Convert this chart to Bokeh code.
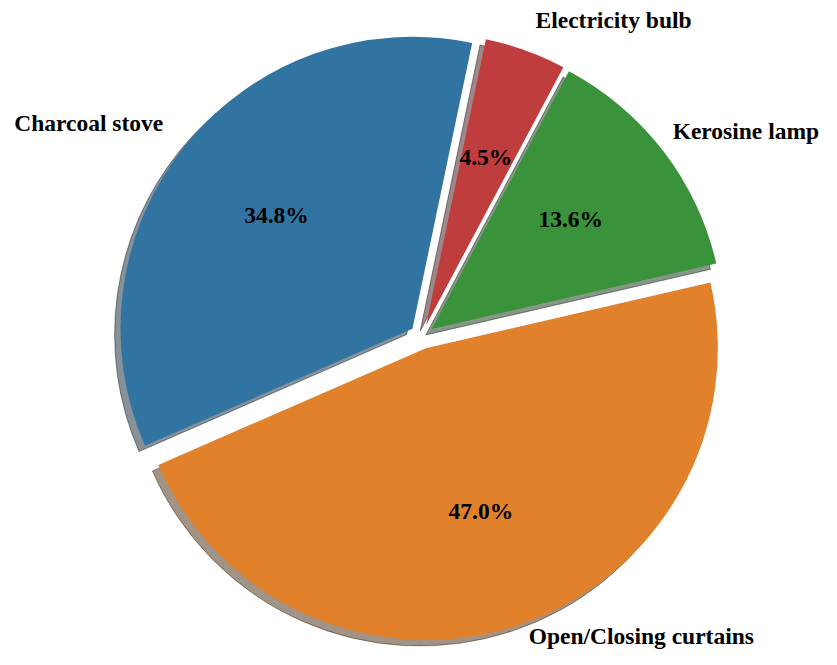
import numpy as np
from bokeh.plotting import figure
from bokeh.models import Range1d, ColumnDataSource
from bokeh.embed import file_html
from bokeh.resources import INLINE
from bokeh.core.properties import value

# ---- data ----
labels = ["Charcoal stove", "Open/Closing curtains", "Kerosine lamp", "Electricity bulb"]
shares = [34.8, 47.0, 13.6, 4.5]
colors = ["#3274A1", "#E1812C", "#3A923A", "#C03D3E"]

# ---- layout ----
W, H = 821, 649
R_PX = 292.0                 # pie radius in pixels
CX_PX, CY_PX = 421.5, 336.0  # pie centre, pixels from the top-left of the canvas
START_DEG = 78.2
EXPLODE = 0.042
LABEL_DIST = 1.1
PCT_DIST = 0.6
SHADOW_DX, SHADOW_DY = -0.02, -0.02
TEXT_RAISE_PX = 3.0
FONT = "Liberation Serif"
FONT_SIZE = "23.5px"
# small pixel nudges so that edge labels stay inside the canvas
LABEL_NUDGE_PX = {"Kerosine lamp": (-14.0, 0.0), "Open/Closing curtains": (2.0, 14.0)}

frac = np.array(shares, dtype=float) / sum(shares)
bounds = np.radians(START_DEG + 360.0 * np.concatenate([[0.0], np.cumsum(frac)]))
start, end = bounds[:-1], bounds[1:]
mid = (start + end) / 2.0
ox = EXPLODE * np.cos(mid)
oy = EXPLODE * np.sin(mid)


def shade(c):
    c = c.lstrip("#")
    rgb = [int(c[i:i + 2], 16) for i in (0, 2, 4)]
    return "#%02x%02x%02x" % tuple(int(round(0.3 * v)) for v in rgb)


shadow_colors = [shade(c) for c in colors]

src = ColumnDataSource(dict(
    x=ox, y=oy, sx=ox + SHADOW_DX, sy=oy + SHADOW_DY,
    start=start, end=end, color=colors, scolor=shadow_colors,
))

p = figure(
    width=W, height=H,
    x_range=Range1d(-CX_PX / R_PX, (W - CX_PX) / R_PX),
    y_range=Range1d(-(H - CY_PX) / R_PX, CY_PX / R_PX),
    output_backend="svg", toolbar_location=None,
    x_axis_location=None, y_axis_location=None, min_border=0,
)
p.grid.visible = False
p.outline_line_color = None
p.background_fill_color = "white"
p.border_fill_color = "white"

# shadows (behind every wedge)
p.wedge(x="sx", y="sy", radius=1.0, start_angle="start", end_angle="end",
        fill_color="scolor", line_color="scolor", fill_alpha=0.5, line_alpha=0.5,
        source=src)
# wedges
p.wedge(x="x", y="y", radius=1.0, start_angle="start", end_angle="end",
        fill_color="color", line_color=None, source=src)

raise_d = TEXT_RAISE_PX / R_PX

# category labels
lx = ox + LABEL_DIST * np.cos(mid)
ly = oy + LABEL_DIST * np.sin(mid) + raise_d
align = ["left" if v > 0 else "right" for v in lx]
for i, lab in enumerate(labels):
    nx, ny = LABEL_NUDGE_PX.get(lab, (0.0, 0.0))
    lx[i] += nx / R_PX
    ly[i] += ny / R_PX
p.text(x=lx, y=ly, text=labels, text_align=align, text_baseline="middle",
       text_font=value(FONT), text_font_style="bold", text_font_size=FONT_SIZE,
       text_color="black")

# percentage labels
px_ = ox + PCT_DIST * np.cos(mid)
py_ = oy + PCT_DIST * np.sin(mid) + raise_d
pct = ["%.1f%%" % (100 * f) for f in frac]
p.text(x=px_, y=py_, text=pct, text_align="center", text_baseline="middle",
       text_font=value(FONT), text_font_style="bold", text_font_size=FONT_SIZE,
       text_color="black")

open("out.html", "w").write(file_html(p, INLINE))
